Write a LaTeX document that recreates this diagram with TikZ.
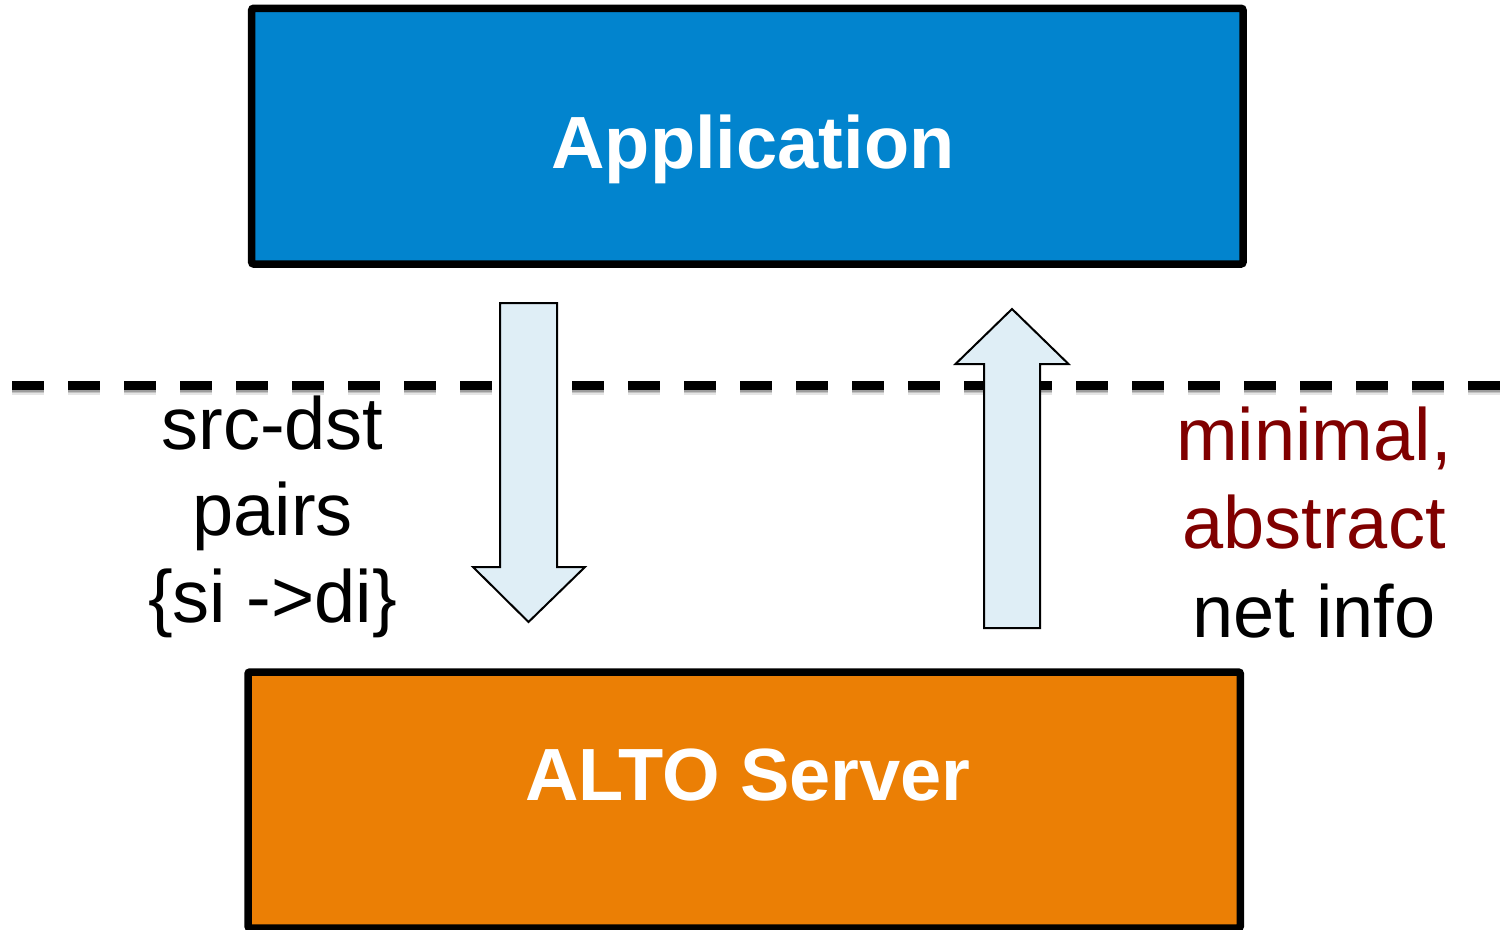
\documentclass[tikz,border=0pt]{standalone}
\usepackage{fontspec}
\setmainfont{Liberation Sans}
\usetikzlibrary{calc}
\definecolor{appblue}{HTML}{0284CE}
\definecolor{altoorange}{HTML}{EB7F05}
\definecolor{flowfill}{HTML}{DFEEF6}
\definecolor{notered}{HTML}{800000}
\begin{document}
\begin{tikzpicture}[x=1pt,y=-1pt,
  layerbox/.style={draw=black,line width=7.5pt,rounded corners=2pt},
  boxlabel/.style={text=white,font=\fontsize{74}{88}\selectfont\bfseries,anchor=base,inner sep=0pt},
  sidetext/.style={font=\fontsize{74}{88}\selectfont,anchor=base,inner sep=0pt},
  blockarrow/.style={draw=black,line width=2pt,fill=flowfill,line join=miter},
  boundary/.style={line width=9pt,dash pattern=on 32pt off 24pt}]
\useasboundingbox (0,0) rectangle (1506,929);

% the two layers
\draw[layerbox,fill=appblue] (251.7,8.3) rectangle (1243,264);
\coordinate (app) at (747.3,136);
\node[boxlabel] (applabel) at (753,168) {Application};

\draw[layerbox,fill=altoorange] (248,672) rectangle (1240.3,928);
\coordinate (alto) at (744,800);
\node[boxlabel] (altolabel) at (748,800) {ALTO Server};

% boundary between application and network, with a soft shadow
\foreach \o/\a in {5/0.10,3.5/0.15,2/0.2}
  \draw[boundary,draw=black,opacity=\a] (12,385+\o) -- (1506,385+\o);
\draw[boundary] (12,385) -- (1506,385);

% request flow: application down to the server
\coordinate (dtop) at (528.5,303);
\coordinate (dtip) at (528.5,622);
\draw[blockarrow]
  ($(dtop)+(-28.5,0)$) -- ($(dtop)+(28.5,0)$) -- (557,567) -- (585,567)
  -- (dtip) -- (473,567) -- (500,567) -- cycle;

% answer flow: server up to the application
\coordinate (ubot) at (1012,628);
\coordinate (utip) at (1012,309);
\draw[blockarrow]
  ($(ubot)+(-28,0)$) -- ($(ubot)+(28,0)$) -- (1040,364) -- (1068.5,364)
  -- (utip) -- (955.5,364) -- (984,364) -- cycle;

% what goes down
\node[sidetext] (req1) at (272.5,449) {src-dst};
\node[sidetext] (req2) at (272.5,535) {pairs};
\node[sidetext] (req3) at (272.5,622) {\{si ->di\}};

% what comes back
\node[sidetext,text=notered] (ans1) at (1314,460) {minimal,};
\node[sidetext,text=notered] (ans2) at (1314,548) {abstract};
\node[sidetext] (ans3) at (1314,637) {net info};
\end{tikzpicture}
\end{document}
